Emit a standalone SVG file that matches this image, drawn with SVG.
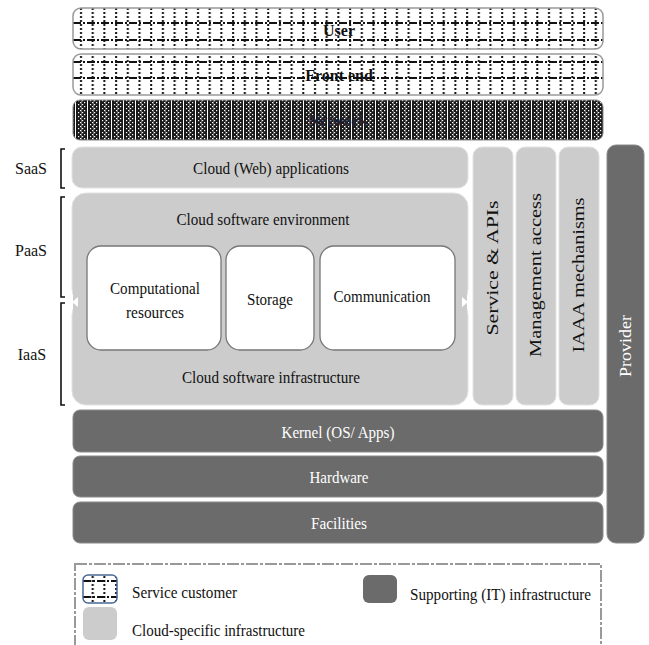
<svg xmlns="http://www.w3.org/2000/svg" width="649" height="645" viewBox="0 0 649 645" font-family="'Liberation Serif', 'Times New Roman', serif">
<defs>
<style>
text{font-family:'Liberation Serif','Times New Roman',serif;fill:#111;}
.lt{fill:#cccccc;stroke:#e2e2e2;stroke-width:1;}
.dk{fill:#6b6b6b;stroke:#8a8a8a;stroke-width:1;}
.wh{fill:#ffffff;stroke:#777;stroke-width:1.3;}
.c{text-anchor:middle;}
.hl{stroke:#111;stroke-width:2;stroke-dasharray:8 2 2 2;fill:none;}
.br{fill:none;stroke:#111;stroke-width:1.6;}
.pat{stroke:#999;stroke-width:1.5;}
</style>
<pattern id="pV" patternUnits="userSpaceOnUse" x="75" y="0" width="11.7" height="4">
<rect width="11.7" height="4" fill="#fff"/>
<rect x="5" y="0" width="2" height="2" fill="#111"/>
</pattern>
<pattern id="pN" patternUnits="userSpaceOnUse" x="75" y="100" width="12" height="4">
<rect width="12" height="4" fill="#1a1a1a"/>
<rect x="0" y="0" width="1" height="4" fill="#fff"/>
<rect x="3" y="0" width="1.2" height="1.2" fill="#fff"/>
<rect x="7" y="0" width="1.2" height="1.2" fill="#fff"/>
<rect x="5" y="2" width="1.2" height="1.2" fill="#fff"/>
<rect x="9" y="2" width="1.2" height="1.2" fill="#fff"/>
<rect x="6" y="0" width="0.6" height="4" fill="#999"/>
</pattern>
<clipPath id="cU"><rect x="73" y="8" width="530" height="41" rx="8"/></clipPath>
<clipPath id="cF"><rect x="73" y="54" width="530" height="41" rx="8"/></clipPath>
<clipPath id="cL"><rect x="83" y="575" width="34" height="28" rx="5"/></clipPath>
</defs>

<g id="user">
<rect x="73" y="8" width="530" height="41" rx="8" fill="url(#pV)"/>
<g clip-path="url(#cU)">
<line class="hl" x1="73" y1="23" x2="603" y2="23"/>
<line class="hl" x1="73" y1="40" x2="603" y2="40"/>
</g>
<rect x="73" y="8" width="530" height="41" rx="8" fill="none" class="pat"/>
<text x="339" y="36" class="c" font-size="16" font-weight="bold">User</text>
</g>

<g id="frontend">
<rect x="73" y="54" width="530" height="41" rx="8" fill="url(#pV)"/>
<g clip-path="url(#cF)">
<line class="hl" x1="73" y1="62" x2="603" y2="62"/>
<line class="hl" x1="73" y1="78" x2="603" y2="78"/>
</g>
<rect x="73" y="54" width="530" height="41" rx="8" fill="none" class="pat"/>
<text x="339" y="81" class="c" font-size="16" font-weight="bold">Front end</text>
</g>

<g id="network">
<rect x="73" y="100" width="530" height="40" rx="7" fill="url(#pN)" stroke="#888" stroke-width="1"/>
<text x="338" y="126" class="c" font-size="16" font-weight="bold" style="fill:#223">Network</text>
</g>

<g id="saas">
<rect class="lt" x="72" y="147" width="396" height="41" rx="10"/>
<text x="271" y="174" class="c" font-size="16" textLength="156" lengthAdjust="spacingAndGlyphs">Cloud (Web) applications</text>
</g>

<g id="paas-iaas">
<rect class="lt" x="72" y="193" width="396" height="110" rx="14"/>
<rect class="lt" x="72" y="301" width="396" height="104" rx="14"/>
<rect x="73" y="290" width="394" height="20" fill="#cccccc"/>
<path d="M72,302 L78,297 L78,307 Z M468,302 L462,297 L462,307 Z" fill="#fff"/>
<text x="263" y="225" class="c" font-size="16" textLength="173" lengthAdjust="spacingAndGlyphs">Cloud software environment</text>
<text x="271" y="383" class="c" font-size="16" textLength="178" lengthAdjust="spacingAndGlyphs">Cloud software infrastructure</text>
</g>

<g id="computational">
<rect class="wh" x="87" y="246" width="134" height="104" rx="14"/>
<text x="155" y="294" class="c" font-size="16" textLength="90" lengthAdjust="spacingAndGlyphs">Computational</text>
<text x="155" y="318" class="c" font-size="16" textLength="58" lengthAdjust="spacingAndGlyphs">resources</text>
</g>
<g id="storage">
<rect class="wh" x="226" y="246" width="88" height="104" rx="14"/>
<text x="270" y="305" class="c" font-size="16" textLength="46" lengthAdjust="spacingAndGlyphs">Storage</text>
</g>
<g id="communication">
<rect class="wh" x="320" y="246" width="135" height="104" rx="14"/>
<text x="382" y="302" class="c" font-size="16" textLength="97" lengthAdjust="spacingAndGlyphs">Communication</text>
</g>

<g id="service-apis">
<rect class="lt" x="473" y="147" width="40" height="258" rx="9"/>
<text transform="translate(498,268) rotate(-90)" class="c" font-size="16" textLength="135" lengthAdjust="spacingAndGlyphs">Service &amp; APIs</text>
</g>
<g id="management">
<rect class="lt" x="516" y="147" width="40" height="258" rx="9"/>
<text transform="translate(541,275) rotate(-90)" class="c" font-size="16" textLength="164" lengthAdjust="spacingAndGlyphs">Management access</text>
</g>
<g id="iaaa">
<rect class="lt" x="559" y="147" width="40" height="258" rx="9"/>
<text transform="translate(584,275) rotate(-90)" class="c" font-size="16" textLength="155" lengthAdjust="spacingAndGlyphs">IAAA mechanisms</text>
</g>
<g id="provider">
<rect class="dk" x="607" y="145" width="37" height="398" rx="9"/>
<text transform="translate(631,346) rotate(-90)" class="c" font-size="17" textLength="62" lengthAdjust="spacingAndGlyphs" style="fill:#fff">Provider</text>
</g>

<g id="kernel">
<rect class="dk" x="73" y="410" width="530" height="42" rx="7"/>
<text x="338" y="438" class="c" font-size="16" style="fill:#fff" textLength="113" lengthAdjust="spacingAndGlyphs">Kernel (OS/ Apps)</text>
</g>
<g id="hardware">
<rect class="dk" x="73" y="456" width="530" height="41" rx="7"/>
<text x="339" y="483" class="c" font-size="16" style="fill:#fff" textLength="59" lengthAdjust="spacingAndGlyphs">Hardware</text>
</g>
<g id="facilities">
<rect class="dk" x="73" y="502" width="530" height="41" rx="7"/>
<text x="339" y="529" class="c" font-size="16" style="fill:#fff" textLength="56" lengthAdjust="spacingAndGlyphs">Facilities</text>
</g>

<g id="labels">
<path class="br" d="M65,149 L61,149 L61,188 L65,188"/>
<path class="br" d="M65,197 L61,197 L61,297 L65,297"/>
<path class="br" d="M65,303 L61,303 L61,405 L65,405"/>
<text x="31" y="174" class="c" font-size="16">SaaS</text>
<text x="31" y="256" class="c" font-size="16">PaaS</text>
<text x="32" y="360" class="c" font-size="16">IaaS</text>
</g>

<g id="legend">
<rect x="75" y="564" width="526" height="95" fill="none" stroke="#999" stroke-width="2" stroke-dasharray="12 2 3 2"/>
<rect x="83" y="575" width="34" height="28" rx="5" fill="url(#pV)"/>
<g clip-path="url(#cL)">
<line class="hl" x1="83" y1="581" x2="117" y2="581"/>
<line class="hl" x1="83" y1="597" x2="117" y2="597"/>
</g>
<rect x="83" y="575" width="34" height="28" rx="5" fill="none" stroke="#4a6a94" stroke-width="1.5"/>
<rect x="83" y="607" width="34" height="33" rx="6" fill="#cccccc"/>
<rect x="363" y="575" width="34" height="28" rx="6" fill="#6b6b6b"/>
<text x="132" y="598" font-size="16" textLength="105" lengthAdjust="spacingAndGlyphs">Service customer</text>
<text x="132" y="636" font-size="16" textLength="173" lengthAdjust="spacingAndGlyphs">Cloud-specific infrastructure</text>
<text x="410" y="600" font-size="16" textLength="181" lengthAdjust="spacingAndGlyphs">Supporting (IT) infrastructure</text>
</g>
</svg>
